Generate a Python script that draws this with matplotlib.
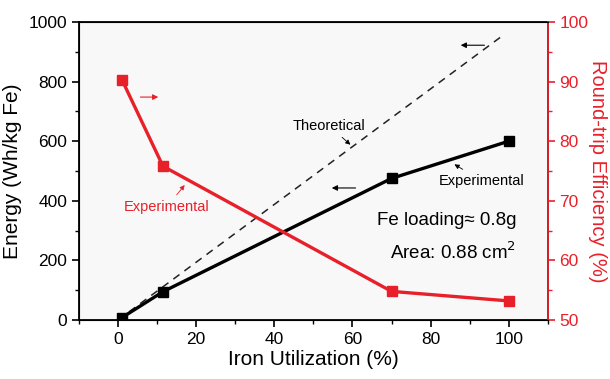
import matplotlib.pyplot as plt

plt.rcParams['font.family'] = ['Liberation Sans', 'DejaVu Sans']

# Données
util = [1, 11.5, 70, 100]                 # Utilisation du fer (%)
energie = [8, 95, 475, 600]               # Energie expérimentale (Wh/kg Fe)
util_theo = [0, 98]
energie_theo = [0, 950]                   # Droite théorique
rendement = [90.3, 75.8, 54.8, 53.2]      # Rendement aller-retour (%)

rouge = '#e8202a'

fig = plt.figure(figsize=(6.1, 3.79), dpi=100)
ax = fig.add_axes([0.1295, 0.1557, 0.7685, 0.7863])
ax.set_facecolor('#f8f8f8')

ax.plot(util_theo, energie_theo, '--', color='#222222', lw=1.1, dashes=(5, 4))
ax.plot(util, energie, '-', color='black', lw=2.4, marker='s', ms=7.5)

ax.set_xlim(-10, 110)
ax.set_ylim(0, 1000)
ax.set_xticks([0, 20, 40, 60, 80, 100])
ax.set_xticks(range(-10, 111, 10), minor=True)
ax.set_yticks(range(0, 1001, 200))
ax.set_yticks(range(0, 1001, 100), minor=True)
ax.tick_params(which='major', length=5, width=1.2, labelsize=12.5)
ax.tick_params(which='minor', length=3, width=1.0)
ax.set_xlabel('Iron Utilization (%)', fontsize=15, labelpad=2)
ax.set_ylabel('Energy (Wh/kg Fe)', fontsize=15, labelpad=5)
for s in ax.spines.values():
    s.set_linewidth(1.3)

ax2 = ax.twinx()
ax2.plot(util, rendement, '-', color=rouge, lw=2.4, marker='s', ms=7.5)
ax2.set_ylim(50, 100)
ax2.set_yticks(range(50, 101, 10))
ax2.set_yticks(range(50, 101, 5), minor=True)
ax2.tick_params(which='major', length=5, width=1.2, labelsize=12.5, colors=rouge)
ax2.tick_params(which='minor', length=3, width=1.0, colors=rouge)
ax2.spines['right'].set_color(rouge)
ax2.spines['right'].set_linewidth(1.3)
ax2.set_ylabel('Round-trip Efficiency (%)', fontsize=14.5, color=rouge, rotation=270, labelpad=13)

# Annotations (coordonnées en données de l'axe gauche)
fleche = dict(arrowstyle='-|>', color='black', lw=0.8, mutation_scale=8)
ax.annotate('', xy=(87, 922), xytext=(94.5, 922), arrowprops=fleche)
ax.annotate('', xy=(54, 443), xytext=(61.5, 443), arrowprops=fleche)
ax.annotate('Theoretical', xy=(60, 582), xytext=(54, 652), fontsize=10.5,
            ha='center', va='center',
            arrowprops=dict(arrowstyle='-|>', color='black', lw=0.6, mutation_scale=7))
ax.annotate('Experimental', xy=(85.5, 527), xytext=(93, 468), fontsize=10.5,
            ha='center', va='center',
            arrowprops=dict(arrowstyle='-|>', color='black', lw=0.6, mutation_scale=7))
fleche_r = dict(arrowstyle='-|>', color=rouge, lw=0.8, mutation_scale=8)
ax.annotate('', xy=(11, 748), xytext=(5, 748), arrowprops=fleche_r)
ax.annotate('Experimental', xy=(17.5, 460), xytext=(12.5, 380), fontsize=10.5,
            ha='center', va='center', color=rouge,
            arrowprops=dict(arrowstyle='-|>', color=rouge, lw=0.6, mutation_scale=7))

ax.text(102, 335, 'Fe loading\u2248 0.8g', fontsize=13.5, ha='right', va='center')
ax.text(102, 228, 'Area: 0.88 cm$^2$', fontsize=13.5, ha='right', va='center')

fig.savefig('out.png', dpi=100)
